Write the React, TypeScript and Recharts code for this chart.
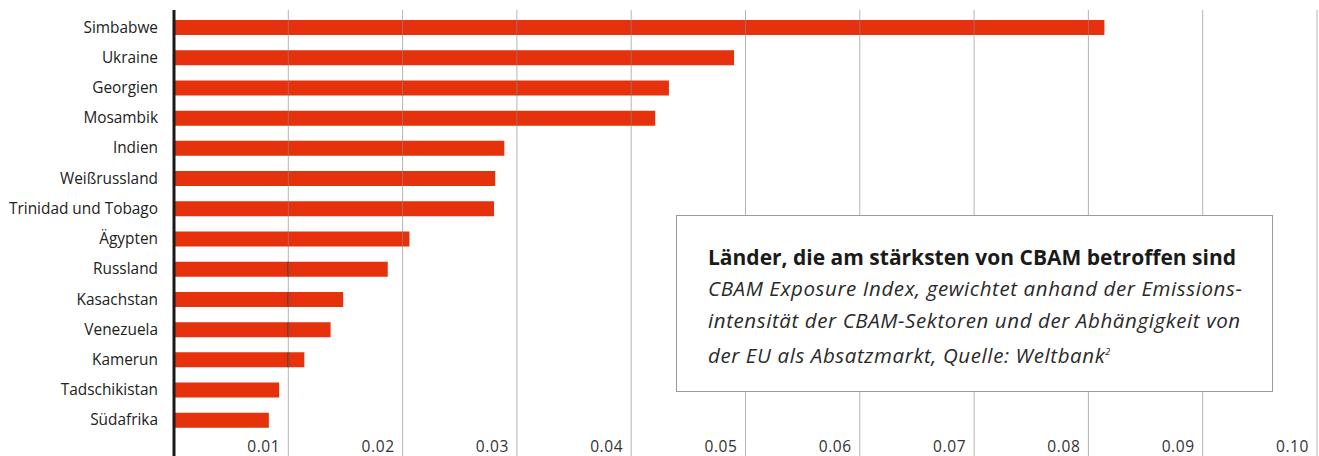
import React from "react";
import { BarChart, Bar, XAxis, YAxis, Rectangle } from "recharts";

const countries = [
  "Simbabwe",
  "Ukraine",
  "Georgien",
  "Mosambik",
  "Indien",
  "Weißrussland",
  "Trinidad und Tobago",
  "Ägypten",
  "Russland",
  "Kasachstan",
  "Venezuela",
  "Kamerun",
  "Tadschikistan",
  "Südafrika",
];

const exposure = [
  0.0814, 0.049, 0.0433, 0.0421, 0.0289, 0.0281, 0.028, 0.0206, 0.0187,
  0.0148, 0.0137, 0.0114, 0.0092, 0.0083,
];

// rows where the 0.01 gridline shows darker over the bar in the original
const darkMarkCountries = ["Russland", "Kasachstan", "Venezuela", "Kamerun"];
const darkMarkValue = 0.01;

const xTicks = [0, 0.01, 0.02, 0.03, 0.04, 0.05, 0.06, 0.07, 0.08, 0.09, 0.1];
const xTickLabels = ["", "0.01", "0.02", "0.03", "0.04", "0.05", "0.06", "0.07", "0.08", "0.09", "0.10"];

const title = "Länder, die am stärksten von CBAM betroffen sind";
const subtitleLines = [
  "CBAM Exposure Index, gewichtet anhand der Emissions-",
  "intensität der CBAM-Sektoren und der Abhängigkeit von",
  "der EU als Absatzmarkt, Quelle: Weltbank",
];

const data = countries.map((c, i) => ({ country: c, value: exposure[i] }));

const W = 1319;
const H = 456;
const PLOT_TOP = 12;
const X_AXIS_H = 21;

const XTick = (props: any) => {
  const { x, y, payload } = props;
  const up = y - PLOT_TOP + 2;
  if (payload.value === 0) {
    return (
      <g>
        <line x1={x} x2={x} y1={y - up} y2={H} stroke="#1a1a1a" strokeWidth={3} />
      </g>
    );
  }
  return (
    <g>
      <line x1={x} x2={x} y1={y - up} y2={H} stroke="#8c8c8c" strokeOpacity={0.65} strokeWidth={1} />
      <text
        x={x - 8}
        y={y + 9}
        textAnchor="end"
        fontFamily="'Open Sans', sans-serif"
        fontSize={15.5}
        letterSpacing={0.6}
        fill="#333"
      >
        {xTickLabels[xTicks.indexOf(payload.value)] ?? ""}
      </text>
    </g>
  );
};

const BarShape = (props: any) => {
  const { x, y, width, height, payload, fill } = props;
  const showMark = darkMarkCountries.includes(payload.country) && payload.value > darkMarkValue;
  const mx = x + (width * darkMarkValue) / payload.value;
  return (
    <g>
      <Rectangle x={x} y={y} width={width} height={height} fill={fill} />
      {showMark ? (
        <line x1={mx} x2={mx} y1={y} y2={y + height} stroke="#5a1005" strokeWidth={1.5} />
      ) : null}
    </g>
  );
};

export default function App() {
  return (
    <div style={{ position: "absolute", left: 0, top: 0, width: W, height: H, background: "#fff" }}>
      <BarChart
        width={W}
        height={H}
        data={data}
        layout="vertical"
        margin={{ top: PLOT_TOP, right: 2, bottom: 0, left: 0 }}
        barCategoryGap={0}
      >
        <Bar dataKey="value" fill="#E5310C" barSize={15} isAnimationActive={false} shape={<BarShape />} />
        <YAxis
          type="category"
          dataKey="country"
          width={174}
          axisLine={false}
          tickLine={false}
          tickSize={0}
          tickMargin={16}
          tick={{ fontFamily: "'Open Sans', sans-serif", fontSize: 15.4, fill: "#222" }}
          interval={0}
        />
        <XAxis
          type="number"
          domain={[0, 0.1]}
          ticks={xTicks}
          height={X_AXIS_H}
          axisLine={false}
          tickLine={false}
          tick={<XTick />}
          interval={0}
        />
      </BarChart>
      <div
        style={{
          position: "absolute",
          left: 676,
          top: 215,
          width: 597,
          height: 177,
          boxSizing: "border-box",
          border: "1.5px solid #9a9a9a",
          background: "#fff",
          paddingLeft: 31,
          paddingTop: 26,
          fontFamily: "'Open Sans', sans-serif",
          color: "#1a1a1a",
        }}
      >
        <div style={{ fontWeight: 700, fontSize: 21, lineHeight: "31px", whiteSpace: "nowrap" }}>{title}</div>
        {subtitleLines.map((l, i) => (
          <div
            key={i}
            style={{
              fontStyle: "italic",
              fontSize: 20.5,
              letterSpacing: 0.6,
              lineHeight: "31.5px",
              color: "#2a2a2a",
              whiteSpace: "nowrap",
            }}
          >
            {l}
            {i === subtitleLines.length - 1 ? <sup style={{ fontSize: 9 }}>2</sup> : null}
          </div>
        ))}
      </div>
    </div>
  );
}
